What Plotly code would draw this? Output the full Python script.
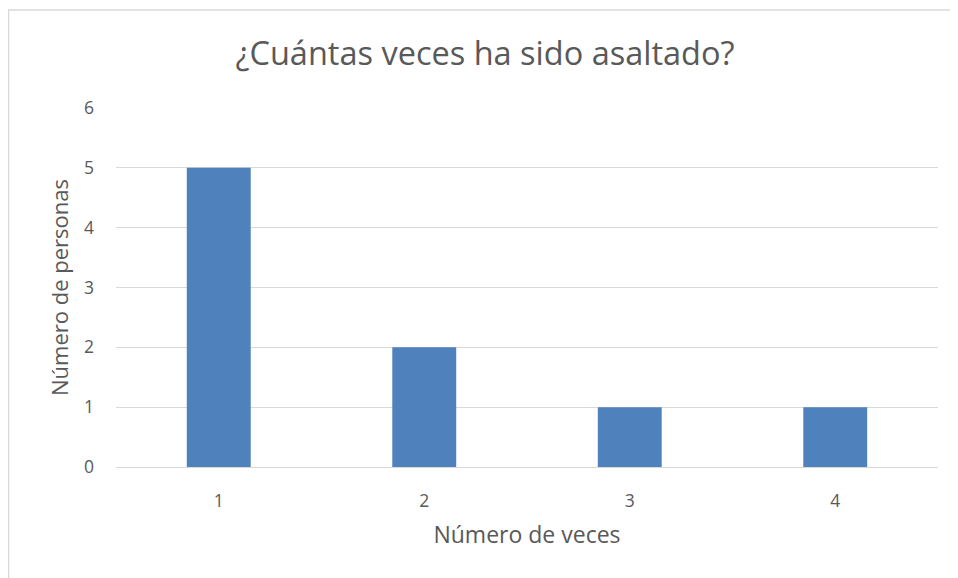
import plotly.graph_objects as go

categories = ["1", "2", "3", "4"]
values = [5, 2, 1, 1]
y_ticks = [0, 1, 2, 3, 4, 5, 6]

# page body adds an 8px offset; figure is sized to fill the rest of the window
OFF = 8
W, H = 958 - OFF, 578 - OFF
L, R, T, B = 116 - OFF, 958 - 938, 108 - OFF, 578 - 467
pw, ph = W - L - R, H - T - B

def px_x(p):
    return (p - OFF - L) / pw

def px_y(p):
    return 1 - (p - OFF - T) / ph

fig = go.Figure(go.Bar(x=categories, y=values, marker=dict(color="#4F81BD", line=dict(width=0))))

font = "Open Sans, Liberation Sans, sans-serif"
grey = "#595959"
fig.update_layout(
    width=W, height=H,
    margin=dict(l=L, r=R, t=T, b=B),
    paper_bgcolor="white", plot_bgcolor="white",
    bargap=0.689,
    showlegend=False,
    font=dict(family=font, color=grey, size=17),
    title=dict(text="¿Cuántas veces ha sido asaltado?", x=(485 - OFF) / W, xanchor="center",
               y=1 - (54 - OFF) / H, yanchor="middle", font=dict(size=32.5, color=grey)),
    xaxis=dict(type="category", showgrid=False, showline=False, ticks="",
               ticklabelstandoff=21,
               tickfont=dict(size=17.5, color=grey),
               title=dict(text="Número de veces", font=dict(size=23, color=grey), standoff=16)),
    yaxis=dict(range=[0, 6], tickvals=y_ticks, showgrid=True, gridcolor="#D9D9D9", gridwidth=1,
               zeroline=True, zerolinecolor="#D9D9D9", zerolinewidth=1, showline=False, ticks="",
               ticklabelstandoff=21,
               tickfont=dict(size=17.5, color=grey),
               title=dict(text="Número de personas", font=dict(size=22, color=grey), standoff=9)),
    shapes=[dict(type="rect", xref="paper", yref="paper",
                 x0=px_x(8.5), x1=px_x(958 + 10), y0=px_y(578 + 10), y1=px_y(10),
                 line=dict(color="#D9D9D9", width=1.5), fillcolor="rgba(0,0,0,0)", layer="below")],
)

fig.write_html("out.html")
